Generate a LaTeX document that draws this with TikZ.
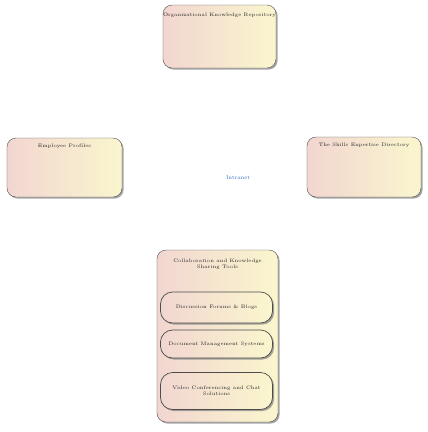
\documentclass[tikz,border=0pt]{standalone}
\usepackage{tikz}
\usetikzlibrary{positioning,shadows}
\definecolor{kmpink}{RGB}{242,214,208}
\definecolor{kmyellow}{RGB}{250,246,206}
\definecolor{kmblue}{RGB}{45,115,195}
\tikzset{
  kmbox/.style={draw=black!70, rounded corners=9bp, left color=kmpink, right color=kmyellow,
    drop shadow={shadow xshift=1.6bp, shadow yshift=-1.6bp, fill=black!50, opacity=0.7},
    inner sep=0pt},
  kmpill/.style={kmbox, rounded corners=12bp, line width=0.7bp},
  kmtext/.style={font=\fontsize{5}{6.2}\selectfont, text=black!85, align=center, inner sep=0pt}
}

\begin{document}
\begin{tikzpicture}[x=1bp,y=-1bp]
\useasboundingbox (0,0) rectangle (428,432);

% Outer boxes
\node[kmbox, minimum width=113bp, minimum height=63bp] (repo) at (219.5,36.5) {};
\node[kmbox, minimum width=115bp, minimum height=59bp] (staff) at (64.5,167.5) {};
\node[kmbox, minimum width=114bp, minimum height=60bp] (expert) at (364,167) {};

% Labels
\node[kmtext, below=8bp of repo.north] (repot) {Organizational Knowledge Repository};
\node[kmtext, below=6bp of staff.north] (stafft) {Employee Profiles};
\node[kmtext, below=6bp of expert.north] (expertt) {The Skills Expertise Directory};
\node[kmtext, text=kmblue, font=\fontsize{5.5}{6.5}\selectfont] (hub) at (238,178) {Intranet};

% Tools container
\node[kmbox, minimum width=121bp, minimum height=172bp] (tools) at (217.5,336) {};
\node[kmtext, below=9bp of tools.north] (toolst) {Collaboration and Knowledge\\Sharing Tools};

% Inner boxes
\node[kmpill, minimum width=112bp, minimum height=31bp] (forum) at (216.5,307.5) {};
\node[kmpill, minimum width=112bp, minimum height=28bp] (docs) at (216.5,344) {};
\node[kmpill, minimum width=112bp, minimum height=37bp] (video) at (216.5,391) {};

\node[kmtext] (forumt) at (forum) {Discussion Forums \& Blogs};
\node[kmtext] (docst) at (docs) {Document Management Systems};
\node[kmtext] (videot) at (video) {Video Conferencing and Chat\\Solutions};
\end{tikzpicture}
\end{document}
